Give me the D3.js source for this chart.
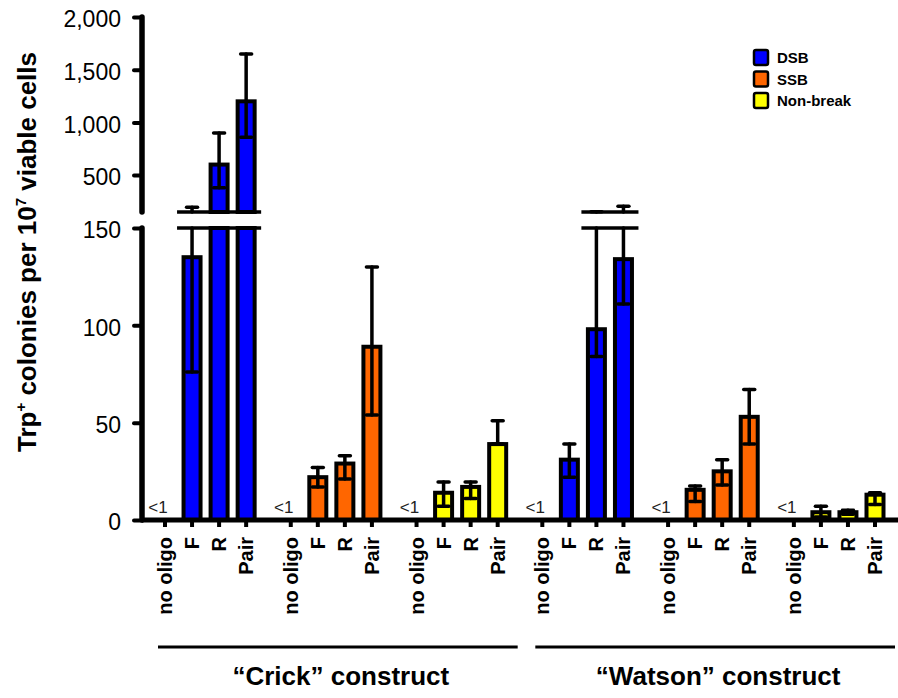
<!DOCTYPE html>
<html>
<head>
<meta charset="utf-8">
<script src="https://cdn.jsdelivr.net/npm/d3@7"></script>
<style>
  body { margin: 0; background: #fff; }
  text { font-family: Arial, "Liberation Sans", sans-serif; }
</style>
</head>
<body>
<script>
// categories
const constructs = ["\u201cCrick\u201d construct", "\u201cWatson\u201d construct"];
const breakTypes = ["DSB", "SSB", "Non-break"];
const oligos = ["no oligo", "F", "R", "Pair"];

// F, R, Pair for DSB, SSB, Non-break ("no oligo" is <1 everywhere)
const crickMean = [135, 600, 1200, 22, 29, 89, 14, 17, 39];
const crickHigh = [195, 900, 1650, 27, 33, 130, 19.5, 19.5, 51];
const crickLow  = [76, 380, 860, 17, 21, 54, 7, 11, 39];
const watsonMean = [31, 98, 134, 15.5, 25, 53, 4, 4, 13];
const watsonHigh = [39, 152, 205, 17.5, 31, 67, 7, 5, 14];
const watsonLow  = [22, 84, 111, 9.5, 18, 39, 1.5, 3, 8];

const lowTicks = [0, 50, 100, 150];
const highTicks = [500, 1000, 1500, 2000];

const colors = { "DSB": "#0000ff", "SSB": "#ff6600", "Non-break": "#ffff00" };

const svgWidth = 898;
const svgHeight = 698;
const axisX = 142;
const baseY = 520;
const groupStep = 4.65; // group pitch in slot units
const cut = 150;

const svg = d3.select("body")
  .append("svg")
  .attr("width", svgWidth)
  .attr("height", svgHeight);

const x = d3.scaleLinear()
  .domain([0, 5 * groupStep + 3])
  .range([165, 875]);

const yLow = d3.scaleLinear().domain([0, cut]).range([baseY, 228]);
const yHigh = d3.scaleLinear().domain([cut, 2000]).range([212, 17]);
const yAny = v => v <= cut ? yLow(v) : yHigh(v);

// flatten into rows
const rows = [];
[[crickMean, crickHigh, crickLow], [watsonMean, watsonHigh, watsonLow]].forEach((arrs, c) => {
  breakTypes.forEach((b, bi) => {
    oligos.forEach((o, i) => {
      const g = c * 3 + bi;
      const row = { construct: c, type: b, group: g, oligo: o, slot: g * groupStep + i };
      if (i > 0) {
        const k = bi * 3 + i - 1;
        row.mean = arrs[0][k];
        row.hi = arrs[1][k];
        row.lo = arrs[2][k];
      }
      rows.push(row);
    });
  });
});
const bars = rows.filter(d => d.mean != null);

const barW = 17;

// lower part of bars
svg.append("g").selectAll("rect")
  .data(bars)
  .enter()
  .append("rect")
  .attr("x", d => x(d.slot) - barW / 2)
  .attr("y", d => yLow(Math.min(d.mean, cut)))
  .attr("width", barW)
  .attr("height", d => baseY - yLow(Math.min(d.mean, cut)))
  .attr("fill", d => colors[d.type])
  .attr("stroke", "#000")
  .attr("stroke-width", 4);

// upper part of bars
svg.append("g").selectAll("rect")
  .data(bars.filter(d => d.mean > cut))
  .enter()
  .append("rect")
  .attr("x", d => x(d.slot) - barW / 2)
  .attr("y", d => yHigh(d.mean))
  .attr("width", barW)
  .attr("height", d => yHigh(cut) - yHigh(d.mean))
  .attr("fill", d => colors[d.type])
  .attr("stroke", "#000")
  .attr("stroke-width", 4);

// error bars
const err = svg.append("g")
  .attr("stroke", "#000")
  .attr("stroke-width", 3.5)
  .attr("stroke-linecap", "round");

bars.forEach(d => {
  const cx = x(d.slot);
  if (d.lo < cut) {
    err.append("line")
      .attr("x1", cx).attr("x2", cx)
      .attr("y1", yLow(d.lo)).attr("y2", yLow(Math.min(d.hi, cut)));
  }
  if (d.hi > cut) {
    err.append("line")
      .attr("x1", cx).attr("x2", cx)
      .attr("y1", yHigh(Math.max(d.lo, cut))).attr("y2", yHigh(d.hi));
  }
  [d.lo, d.hi].forEach(v => {
    err.append("line")
      .attr("x1", cx - 5.5).attr("x2", cx + 5.5)
      .attr("y1", yAny(v)).attr("y2", yAny(v));
  });
});

// break lines over the tall bars
d3.groups(bars.filter(d => d.hi > cut), d => d.group).forEach(([g, ds]) => {
  const x0 = x(d3.min(ds, d => d.slot)) - 15;
  const x1 = x(d3.max(ds, d => d.slot)) + 15;
  [yHigh(cut), yLow(cut)].forEach(yy => {
    svg.append("line")
      .attr("x1", x0).attr("x2", x1)
      .attr("y1", yy).attr("y2", yy)
      .attr("stroke", "#000")
      .attr("stroke-width", 3.5);
  });
});

// "<1" for no oligo
svg.append("g").selectAll("text")
  .data(rows.filter(d => d.mean == null))
  .enter()
  .append("text")
  .attr("x", d => x(d.slot) - 7)
  .attr("y", 513)
  .attr("text-anchor", "middle")
  .attr("font-size", 17)
  .attr("fill", "#222")
  .text("<1");

// x axis
svg.append("line")
  .attr("x1", axisX).attr("x2", svgWidth)
  .attr("y1", baseY).attr("y2", baseY)
  .attr("stroke", "#000")
  .attr("stroke-width", 5);

svg.append("g").selectAll("line")
  .data(rows)
  .enter()
  .append("line")
  .attr("x1", d => x(d.slot)).attr("x2", d => x(d.slot))
  .attr("y1", baseY).attr("y2", baseY + 7)
  .attr("stroke", "#000")
  .attr("stroke-width", 4);

svg.append("g").selectAll("text")
  .data(rows)
  .enter()
  .append("text")
  .attr("transform", d => `translate(${x(d.slot)}, 537) rotate(-90)`)
  .attr("text-anchor", "end")
  .attr("dy", "0.35em")
  .attr("font-size", 20)
  .attr("font-weight", "bold")
  .text(d => d.oligo);

// y axes, split at the break
const lowAxis = svg.append("g")
  .attr("transform", `translate(${axisX}, 0)`)
  .call(d3.axisLeft(yLow).tickValues(lowTicks).tickSize(8).tickPadding(13).tickFormat(d3.format(",")));
const highAxis = svg.append("g")
  .attr("transform", `translate(${axisX}, 0)`)
  .call(d3.axisLeft(yHigh).tickValues(highTicks).tickSize(8).tickPadding(13).tickFormat(d3.format(",")));

[lowAxis, highAxis].forEach(a => {
  a.select(".domain").remove();
  a.selectAll(".tick line").attr("stroke-width", 4).attr("stroke-linecap", "round");
  a.selectAll(".tick text")
    .attr("font-size", 23)
    .attr("font-family", "Arial, 'Liberation Sans', sans-serif")
    .attr("dy", "0.42em")
    .attr("fill", "#000");
});

[[yLow(0), yLow(cut)], [yHigh(cut), yHigh(2000)]].forEach(([a, b]) => {
  svg.append("line")
    .attr("x1", axisX).attr("x2", axisX)
    .attr("y1", a).attr("y2", b)
    .attr("stroke", "#000")
    .attr("stroke-width", 5.5)
    .attr("stroke-linecap", "round");
});

// y title
const yTitle = svg.append("text")
  .attr("transform", "translate(36, 252) rotate(-90)")
  .attr("text-anchor", "middle")
  .attr("font-size", 26)
  .attr("font-weight", "bold");
yTitle.append("tspan").text("Trp");
yTitle.append("tspan").attr("dy", -10).attr("font-size", 15).text("+");
yTitle.append("tspan").attr("dy", 10).text(" colonies per 10");
yTitle.append("tspan").attr("dy", -10).attr("font-size", 15).text("7");
yTitle.append("tspan").attr("dy", 10).text(" viable cells");

// construct brackets
constructs.forEach((name, c) => {
  const inC = rows.filter(d => d.construct === c);
  const x0 = x(d3.min(inC, d => d.slot)) - 7;
  const x1 = Math.min(x(d3.max(inC, d => d.slot)) + 20, svgWidth - 3);
  svg.append("line")
    .attr("x1", x0).attr("x2", x1)
    .attr("y1", 647).attr("y2", 647)
    .attr("stroke", "#000")
    .attr("stroke-width", 3);
  svg.append("text")
    .attr("x", (x0 + x1) / 2 + 3)
    .attr("y", 685)
    .attr("text-anchor", "middle")
    .attr("font-size", 26)
    .attr("font-weight", "bold")
    .text(name);
});

// legend
const legend = svg.append("g")
  .attr("transform", "translate(753, 49)");

breakTypes.forEach((b, i) => {
  legend.append("rect")
    .attr("x", 1)
    .attr("y", i * 21.5 + 1)
    .attr("width", 14)
    .attr("height", 15)
    .attr("rx", 2)
    .attr("fill", colors[b])
    .attr("stroke", "#000")
    .attr("stroke-width", 2.5);
  legend.append("text")
    .attr("x", 24)
    .attr("y", i * 21.5 + 14)
    .attr("font-family", "'DejaVu Sans', Verdana, sans-serif")
    .attr("font-size", 15)
    .attr("font-weight", "bold")
    .text(b);
});
</script>
</body>
</html>
